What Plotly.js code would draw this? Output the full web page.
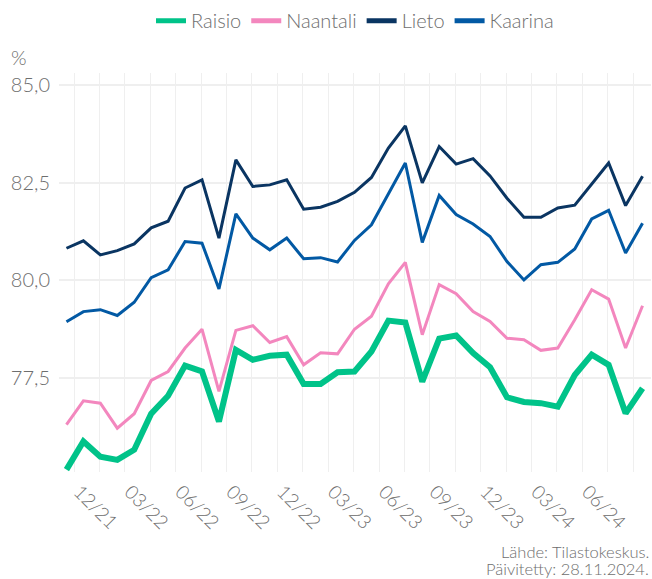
<!DOCTYPE html>
<html>
<head>
<meta charset="utf-8">
<script src="https://cdn.plot.ly/plotly-3.0.1.min.js"></script>
<style>html,body{margin:0;padding:0;background:#fff;}#chart{width:652px;height:579px;}</style>
</head>
<body>
<div id="chart"></div>
<script>
// Months 12/2021 .. 10/2024
const months = ["12/21","01/22","02/22","03/22","04/22","05/22","06/22","07/22","08/22","09/22","10/22","11/22",
"12/22","01/23","02/23","03/23","04/23","05/23","06/23","07/23","08/23","09/23","10/23","11/23",
"12/23","01/24","02/24","03/24","04/24","05/24","06/24","07/24","08/24","09/24","10/24"];
const raisio = [75.16,75.88,75.49,75.41,75.67,76.59,77.05,77.82,77.67,76.39,78.22,77.97,78.07,78.10,77.35,77.35,77.65,
77.67,78.18,78.97,78.92,77.41,78.51,78.59,78.14,77.78,77.01,76.89,76.86,76.77,77.58,78.10,77.84,76.60,77.24];
const naantali = [76.31,76.92,76.86,76.22,76.59,77.44,77.67,78.27,78.75,77.16,78.72,78.84,78.41,78.56,77.84,78.15,78.12,
78.75,79.08,79.91,80.46,78.61,79.89,79.66,79.20,78.95,78.52,78.48,78.21,78.27,78.99,79.76,79.52,78.27,79.35];
const lieto = [80.82,81.01,80.65,80.76,80.93,81.34,81.51,82.36,82.57,81.08,83.08,82.40,82.44,82.57,81.82,81.87,82.02,
82.25,82.63,83.38,83.95,82.49,83.42,82.97,83.11,82.67,82.10,81.61,81.61,81.85,81.92,82.47,83.00,81.91,82.66];
const kaarina = [78.94,79.20,79.25,79.10,79.44,80.07,80.27,80.99,80.95,79.78,81.70,81.08,80.78,81.08,80.55,80.58,80.47,
81.02,81.42,82.23,83.00,80.97,82.17,81.68,81.44,81.12,80.48,80.01,80.40,80.46,80.80,81.57,81.79,80.70,81.46];
const tickLabels = ["12/21","03/22","06/22","09/22","12/22","03/23","06/23","09/23","12/23","03/24","06/24"];
const yTicks = [77.5, 80, 82.5, 85];

const x = months.map((m,i)=>i);
const gridOffset = 0.45;   // quarter grid lines sit mid-month
const labelOffset = 0.75;  // rotated labels start just right of their grid line
const tickVals = tickLabels.map((t,i)=>labelOffset + 3*i);

const FONT = "Lato, 'Open Sans', sans-serif";
const GREY = "#6e6e6e";

const series = [
  {name:"Raisio", y:raisio, color:"#00C389", width:6},
  {name:"Naantali", y:naantali, color:"#F387BE", width:3},
  {name:"Lieto", y:lieto, color:"#0A3562", width:3},
  {name:"Kaarina", y:kaarina, color:"#0259A4", width:3}
];
const traces = series.map(s=>({
  x:x, y:s.y, name:s.name, type:"scatter", mode:"lines", showlegend:false, legendgroup:s.name,
  line:{color:s.color, width:s.width, shape:"linear"},
  text: months, hovertemplate:"%{text}: %{y:.1f}<extra>"+s.name+"</extra>"
}));
// legend entries with uniform key thickness
const legendTraces = series.map(s=>({
  x:[null], y:[null], name:s.name, type:"scatter", mode:"lines", showlegend:true, legendgroup:s.name,
  line:{color:s.color, width:5}
}));

const layout = {
  width:652, height:579,
  margin:{l:59, r:1, t:73, b:107},
  paper_bgcolor:"#fff", plot_bgcolor:"#fff",
  separators:", ",
  font:{family:FONT, color:GREY, size:18, weight:300},
  showlegend:true,
  legend:{orientation:"h", x:0.5, xanchor:"center", y:1.18, yanchor:"top",
          font:{size:20, color:GREY, family:FONT, weight:300}, itemwidth:30, tracegroupgap:0},
  xaxis:{range:[-0.44,34.5], tickmode:"array", tickvals:tickVals, ticktext:tickLabels,
         tickangle:45, showgrid:false, zeroline:false,
         showline:false, ticks:"", ticklabelstandoff:4,
         tickfont:{size:19, color:GREY, family:FONT, weight:300},
         minor:{tick0:gridOffset, dtick:1.5, showgrid:true, gridcolor:"#efefef", gridwidth:1}, fixedrange:true},
  yaxis:{range:[75.10,85.30], tickmode:"array", tickvals:yTicks, tickformat:".1f",
         showgrid:true, gridcolor:"#efefef", gridwidth:2, zeroline:false, showline:false, ticks:"",
         ticklabelstandoff:8,
         tickfont:{size:20, color:GREY, family:FONT, weight:300}, fixedrange:true},
  annotations:[
    {text:"%", xref:"paper", yref:"paper", x:-0.084, xanchor:"left", y:1.04, yanchor:"middle",
     showarrow:false, font:{size:20, color:GREY, family:FONT, weight:300}},
    {text:"Lähde: Tilastokeskus.", xref:"paper", yref:"paper",
     x:1.0, xanchor:"right", y:-0.2000, yanchor:"middle", align:"right", showarrow:false,
     font:{size:16.5, color:GREY, family:FONT, weight:300}},
    {text:"Päivitetty: 28.11.2024.", xref:"paper", yref:"paper",
     x:1.0, xanchor:"right", y:-0.2420, yanchor:"middle", align:"right", showarrow:false,
     font:{size:16.5, color:GREY, family:FONT, weight:300}}
  ]
};
Plotly.newPlot("chart", traces.concat(legendTraces), layout, {displayModeBar:false, staticPlot:true});
</script>
</body>
</html>
